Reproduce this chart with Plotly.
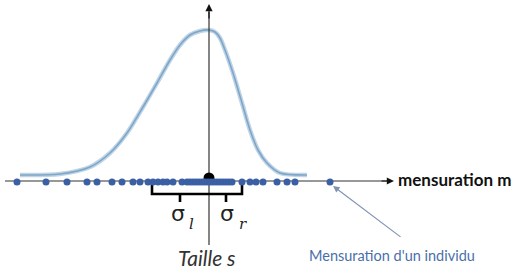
import plotly.graph_objects as go

# Density curve (pixel-like diagram coordinates)
curve_x = [20, 60, 90, 110, 127, 143, 157, 170, 180, 190, 200, 209, 215, 220, 225, 233, 242, 250, 258, 267, 280, 307]
curve_y = [175, 174, 167, 153, 133, 107, 83, 60, 45, 35, 31, 30, 32, 38, 50, 73, 103, 130, 150, 163, 173, 175]

# Individual measurements along the axis
measures = [17, 46, 67, 87, 97, 112, 122, 133, 140, 148, 153, 158, 163, 167, 173, 182, 187,
            190, 193, 196, 199, 202, 205, 208, 211, 214, 217, 220, 223, 226, 229, 232,
            242, 250, 256, 263, 277, 287, 295, 330]
axis_y = 181
peak_x = 209

# Brackets for sigma_l and sigma_r
left_bracket_x = [152, 152, 180, 180, 180, 209]
left_bracket_y = [183, 194, 194, 202, 194, 194]
right_bracket_x = [209, 226, 226, 226, 242, 242]
right_bracket_y = [194, 194, 202, 194, 194, 183]

fig = go.Figure()

# curve: soft halo + darker core
fig.add_trace(go.Scatter(x=curve_x, y=curve_y, mode="lines", line=dict(color="#bfd4e6", width=4.5, shape="spline", smoothing=0.8), hoverinfo="skip"))
fig.add_trace(go.Scatter(x=curve_x, y=curve_y, mode="lines", line=dict(color="#7ea6c8", width=1.6, shape="spline", smoothing=0.8), hoverinfo="skip"))

# vertical axis line (below arrow)
fig.add_trace(go.Scatter(x=[peak_x, peak_x], y=[245, 12], mode="lines", line=dict(color="#333333", width=1.2), hoverinfo="skip"))
# horizontal axis line
fig.add_trace(go.Scatter(x=[5, 388], y=[axis_y, axis_y], mode="lines", line=dict(color="#333333", width=1.2), hoverinfo="skip"))

# black peak marker
fig.add_trace(go.Scatter(x=[peak_x], y=[178], mode="markers", marker=dict(color="black", size=11), hoverinfo="skip"))

# brackets
for bx, by in [(left_bracket_x, left_bracket_y), (right_bracket_x, right_bracket_y)]:
    fig.add_trace(go.Scatter(x=bx, y=by, mode="lines", line=dict(color="black", width=2.6), hoverinfo="skip"))

# measurement dots
fig.add_trace(go.Scatter(x=measures, y=[axis_y + 1] * len(measures), mode="markers",
                         marker=dict(color="#3a5fa4", size=7), hoverinfo="skip"))

annotations = [
    # arrowheads of axes
    dict(x=394, y=axis_y, ax=380, ay=axis_y, xref="x", yref="y", axref="x", ayref="y", text="",
         showarrow=True, arrowhead=2, arrowsize=1.2, arrowwidth=1.2, arrowcolor="#111111"),
    dict(x=peak_x, y=4, ax=peak_x, ay=20, xref="x", yref="y", axref="x", ayref="y", text="",
         showarrow=True, arrowhead=2, arrowsize=1.2, arrowwidth=1.2, arrowcolor="#111111"),
    # pointer to individual
    dict(x=333, y=186, ax=402, ay=238, xref="x", yref="y", axref="x", ayref="y", text="",
         showarrow=True, arrowhead=2, arrowsize=1.1, arrowwidth=1.2, arrowcolor="#8193b5"),
    dict(x=396, y=179, xref="x", yref="y", text="<b>mensuration m</b>", showarrow=False, xanchor="left",
         font=dict(family="Lato", size=17, color="#111111")),
    dict(x=392, y=255, xref="x", yref="y", text="Mensuration d'un individu", showarrow=False,
         font=dict(family="Lato", size=14.5, color="#4a6fa8")),
    dict(x=207, y=257, xref="x", yref="y", text="<i>Taille s</i>", showarrow=False,
         font=dict(family="Lato", size=21, color="#333333")),
    dict(x=178, y=213, xref="x", yref="y", text="σ", showarrow=False,
         font=dict(family="DejaVu Sans", size=22, color="#222222")),
    dict(x=191, y=224, xref="x", yref="y", text="<i>l</i>", showarrow=False,
         font=dict(family="DejaVu Serif", size=15, color="#222222")),
    dict(x=227, y=213, xref="x", yref="y", text="σ", showarrow=False,
         font=dict(family="DejaVu Sans", size=22, color="#222222")),
    dict(x=243, y=224, xref="x", yref="y", text="<i>r</i>", showarrow=False,
         font=dict(family="DejaVu Serif", size=15, color="#222222")),
]

fig.update_layout(
    width=512, height=271, margin=dict(l=0, r=0, t=0, b=0),
    paper_bgcolor="white", plot_bgcolor="white", showlegend=False,
    xaxis=dict(range=[0, 512], visible=False, fixedrange=True),
    yaxis=dict(range=[271, 0], visible=False, fixedrange=True),
    annotations=annotations,
)

fig.write_html("out.html")
